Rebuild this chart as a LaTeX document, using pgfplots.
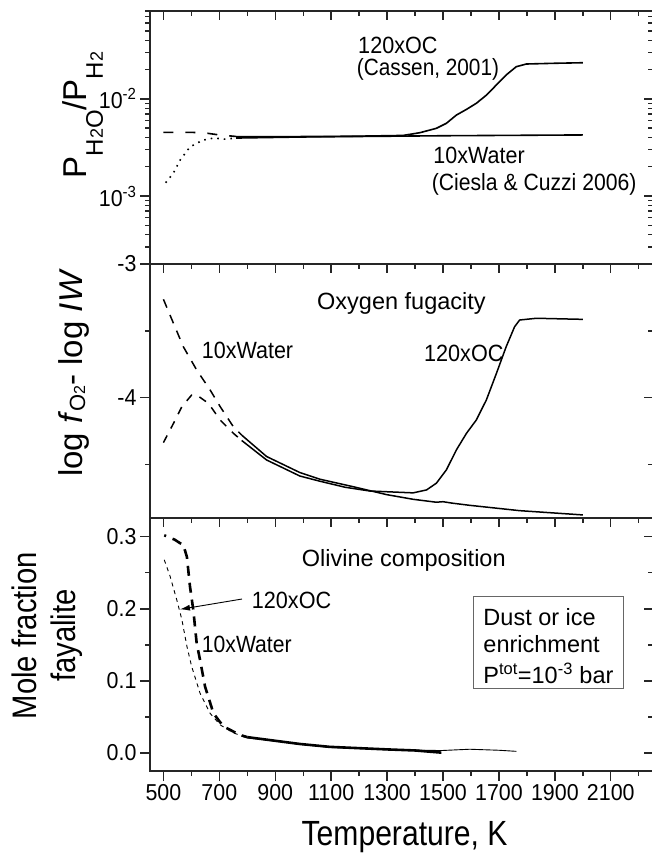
\documentclass[border=0pt]{standalone}
\usepackage{fontspec}
\usepackage{graphicx}
\setmainfont{Liberation Sans}
\newfontfamily\tickfont{Liberation Sans}[FakeStretch=0.93]
\newfontfamily\labfont{Liberation Sans}[FakeStretch=0.86]
\usepackage{pgfplots}
\pgfplotsset{compat=1.18}
\usetikzlibrary{arrows.meta}

\pgfplotsset{
  panel/.style={scale only axis, width=503pt, xmin=452, xmax=2251,
    axis line style={line width=1.6pt, color=black!85},
    every tick/.style={line width=1.4pt, black!85},
    major tick length=10pt, minor tick length=5pt,
    tick label style={font=\tickfont\fontsize{23}{24}\selectfont},
    /pgf/number format/assume math mode=true},
  overl/.style={panel, tick align=inside, xtick pos=top, ytick pos=right,
    xtick={500,700,...,2100}, minor xtick={600,800,...,2200},
    xticklabels={}, yticklabels={}, major tick length=9pt, minor tick length=5pt},
}
\tikzset{lab/.style={font=\fontsize{23.5}{24}\selectfont, inner sep=0pt, anchor=base west}}
\newcommand{\sx}[2]{\scalebox{#1}[1]{#2}}

\begin{document}
\begin{tikzpicture}
\useasboundingbox (0pt,0pt) rectangle (651pt,-853pt);

%================ TOP PANEL ================
\begin{axis}[panel, at={(150pt,-264pt)}, anchor=south west, height=253pt,
  ymode=log, ymin=2e-4, ymax=8e-2, tick align=outside, ytick pos=left, xtick=\empty,
  ytick={1e-3,1e-2}, yticklabels={10\textsuperscript{-3},10\textsuperscript{-2}},
  minor ytick={2e-4,3e-4,4e-4,5e-4,6e-4,7e-4,8e-4,9e-4,2e-3,3e-3,4e-3,5e-3,6e-3,7e-3,8e-3,9e-3,2e-2,3e-2,4e-2,5e-2,6e-2,7e-2,8e-2},
  ylabel={P\raisebox{-16pt}{\fontsize{24}{24}\selectfont H{\fontsize{18}{18}\selectfont 2}O}/P\raisebox{-16pt}{\fontsize{24}{24}\selectfont H{\fontsize{18}{18}\selectfont 2}}},
  ylabel style={font=\fontsize{33}{34}\selectfont, inner sep=0pt, at={(axis description cs:-0.1332,0.589)}, anchor=center}]
% 120xOC dashed start
\addplot[black, line width=1.6pt, dash pattern=on 10pt off 12pt] coordinates {
(500,4.52e-3) (600,4.52e-3) (650,4.45e-3) (700,4.25e-3) (760,4.1e-3)};
% 10xWater dotted start
\addplot[black, line width=1.6pt, dash pattern=on 1.6pt off 5pt] coordinates {
(508,1.37e-3) (535,1.71e-3) (560,2.35e-3) (595,3.2e-3) (640,3.75e-3) (680,3.95e-3) (720,3.85e-3) (760,3.95e-3)};
% 120xOC solid
\addplot[black, line width=1.6pt] coordinates {
(760,4.08e-3) (900,4.08e-3) (1060,4.1e-3) (1200,4.13e-3) (1357,4.2e-3) (1417,4.48e-3) (1476,4.97e-3) (1512,5.6e-3) (1548,6.81e-3) (1584,7.79e-3) (1619,8.99e-3) (1655,1.09e-2) (1691,1.39e-2) (1726,1.76e-2) (1762,2.14e-2) (1798,2.28e-2) (1900,2.32e-2) (2000,2.35e-2)};
% 10xWater solid
\addplot[black, line width=1.6pt] coordinates {
(760,3.95e-3) (1000,4.05e-3) (1500,4.17e-3) (2000,4.25e-3)};
\node[lab] at (rel axis cs:0.4136,0.8328) {\sx{0.92}{120xOC}};
\node[lab] at (rel axis cs:0.4109,0.747) {\sx{0.885}{(Cassen, 2001)}};
\node[lab] at (rel axis cs:0.5632,0.398) {\sx{0.915}{10xWater}};
\node[lab] at (rel axis cs:0.5600,0.2925) {\sx{0.90}{(Ciesla \& Cuzzi 2006)}};
\end{axis}
\begin{axis}[overl, at={(150pt,-264pt)}, anchor=south west, height=253pt,
  ymode=log, ymin=2e-4, ymax=8e-2, ytick={1e-3,1e-2},
  minor ytick={2e-4,3e-4,4e-4,5e-4,6e-4,7e-4,8e-4,9e-4,2e-3,3e-3,4e-3,5e-3,6e-3,7e-3,8e-3,9e-3,2e-2,3e-2,4e-2,5e-2,6e-2,7e-2,8e-2}]
\end{axis}

%================ MIDDLE PANEL ================
\begin{axis}[panel, at={(150pt,-518pt)}, anchor=south west, height=254pt,
  ymin=-4.9, ymax=-3, tick align=outside, ytick pos=left, xtick=\empty,
  ytick={-4,-3}, yticklabels={-4,-3}, minor ytick={-4.5,-3.5},
  ylabel={log \textit{f}\raisebox{-3pt}{\fontsize{22}{22}\selectfont O{\fontsize{16}{16}\selectfont 2}}- log \textit{IW}},
  ylabel style={font=\fontsize{33}{34}\selectfont, inner sep=0pt, at={(axis description cs:-0.152,0.571)}, anchor=center}]
% 10xWater dashed
\addplot[black, line width=1.5pt, dash pattern=on 9pt off 8pt] coordinates {
(500,-3.264) (536,-3.444) (571,-3.618) (619,-3.793) (667,-3.942) (703,-4.067) (750,-4.217) (780,-4.28)};
% 120xOC dashed
\addplot[black, line width=1.5pt, dash pattern=on 8pt off 8pt] coordinates {
(500,-4.336) (536,-4.192) (566,-4.067) (601,-3.98) (619,-3.98) (661,-4.042) (703,-4.167) (750,-4.266) (780,-4.32)};
% 10xWater solid
\addplot[black, line width=1.5pt] coordinates {
(780,-4.28) (869,-4.44) (988,-4.56) (1060,-4.61) (1179,-4.666) (1298,-4.725) (1393,-4.76) (1476,-4.782) (1500,-4.778) (1530,-4.788) (1595,-4.805) (1774,-4.845) (2000,-4.877)};
% 120xOC solid
\addplot[black, line width=1.5pt] coordinates {
(780,-4.32) (869,-4.466) (988,-4.586) (1060,-4.625) (1150,-4.67) (1238,-4.698) (1393,-4.712) (1441,-4.69) (1476,-4.64) (1512,-4.54) (1548,-4.39) (1584,-4.266) (1619,-4.167) (1655,-4.017) (1691,-3.818) (1726,-3.618) (1756,-3.469) (1774,-3.419) (1834,-3.406) (2000,-3.414)};
\node[lab] at (rel axis cs:0.332,0.819) {Oxygen fugacity};
\node[lab] at (rel axis cs:0.1028,0.6287) {\sx{0.915}{10xWater}};
\node[lab] at (rel axis cs:0.5447,0.6154) {\sx{0.92}{120xOC}};
\end{axis}
\begin{axis}[overl, at={(150pt,-518pt)}, anchor=south west, height=254pt,
  ymin=-4.9, ymax=-3, ytick={-4,-3}, minor ytick={-4.5,-3.5}]
\end{axis}

%================ BOTTOM PANEL ================
\begin{axis}[panel, at={(150pt,-771pt)}, anchor=south west, height=253pt,
  ymin=-0.025, ymax=0.326, tick align=outside, ytick pos=left, xtick pos=bottom,
  xtick={500,700,...,2100}, minor xtick={600,800,...,2200},
  xticklabels={500,700,900,1100,1300,1500,1700,1900,2100},
  ytick={0,0.1,0.2,0.3}, yticklabels={0.0,0.1,0.2,0.3}, minor ytick={0.05,0.15,0.25},
  xlabel={Temperature, K},
  xlabel style={font=\labfont\fontsize{35}{36}\selectfont, at={(axis description cs:0.506,-0.2945)}, anchor=base},
  ylabel={Mole fraction\\fayalite},
  ylabel style={font=\labfont\fontsize{34}{39}\selectfont, align=center, at={(axis description cs:-0.2038,0.535)}, anchor=center}]
% 10xWater thin dashed
\addplot[black, line width=0.9pt, dash pattern=on 4pt off 4pt] coordinates {
(503,0.268) (524,0.245) (548,0.212) (566,0.185) (584,0.148) (601,0.12) (631,0.083) (667,0.055) (703,0.039) (750,0.028) (798,0.021)};
% 10xWater thin solid
\addplot[black, line width=0.9pt] coordinates {
(798,0.021) (869,0.018) (988,0.012) (1095,0.0078) (1298,0.0046) (1494,0.0034) (1595,0.0052) (1700,0.0038) (1762,0.0023)};
% 120xOC thick dashed
\addplot[black, line width=2.6pt, dash pattern=on 10pt off 7pt, dash phase=8pt] coordinates {
(503,0.302) (540,0.296) (560,0.291) (571,0.289) (584,0.272) (595,0.231) (607,0.198) (619,0.152) (631,0.129) (649,0.092) (679,0.055) (714,0.037) (774,0.025) (800,0.022)};
% 120xOC thick solid
\addplot[black, line width=2.6pt] coordinates {
(800,0.022) (869,0.0185) (988,0.0125) (1095,0.0085) (1298,0.005) (1400,0.0035) (1494,0.0005)};
\node[lab] at (rel axis cs:0.2022,0.643) {\sx{0.92}{120xOC}};
\node[lab] at (rel axis cs:0.3016,0.8075) {Olivine composition};
\node[lab] at (rel axis cs:0.1028,0.4676) {\sx{0.90}{10xWater}};
\draw[-{Latex[length=10pt,width=6pt]}, line width=0.9pt] (rel axis cs:0.1829,0.6798) -- (rel axis cs:0.0596,0.639);
\draw[black!60, line width=0.9pt] (rel axis cs:0.644,0.689) rectangle (rel axis cs:0.942,0.327);
\node[lab] at (rel axis cs:0.6626,0.577) {Dust or ice};
\node[lab] at (rel axis cs:0.6626,0.4676) {enrichment};
\node[lab] at (rel axis cs:0.6626,0.3466) {P\textsuperscript{tot}=10\textsuperscript{-3} bar};
\end{axis}
\begin{axis}[overl, at={(150pt,-771pt)}, anchor=south west, height=253pt,
  ymin=-0.025, ymax=0.326, ytick={0,0.1,0.2,0.3}, minor ytick={0.05,0.15,0.25}]
\end{axis}
\end{tikzpicture}
\end{document}
